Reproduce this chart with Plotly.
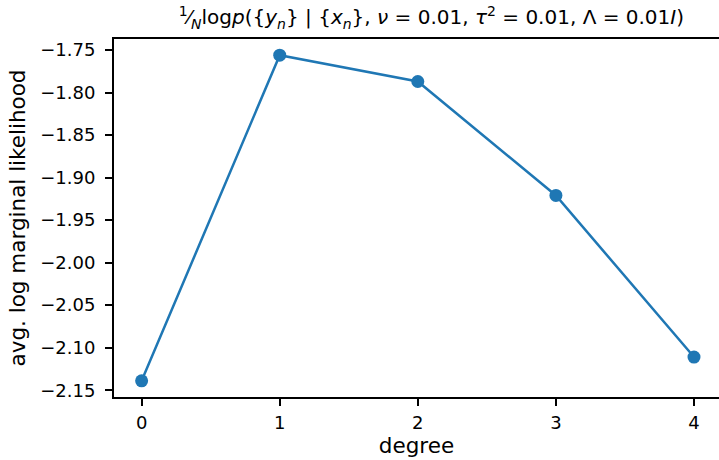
import plotly.graph_objects as go

degree = [0, 1, 2, 3, 4]
avg_log_ml = [-2.139, -1.756, -1.787, -1.921, -2.111]
y_ticks = [-1.75, -1.80, -1.85, -1.90, -1.95, -2.00, -2.05, -2.10, -2.15]
x_ticks = [0, 1, 2, 3, 4]

title_text = ("<sup>1</sup>⁄<sub><i>N</i></sub>log<i>p</i>({<i>y<sub>n</sub></i>} | {<i>x<sub>n</sub></i>}, "
              "<i>ν</i> = 0.01, <i>τ</i><sup>2</sup> = 0.01, Λ = 0.01<i>I</i>)")

fig = go.Figure()
fig.add_trace(go.Scatter(
    x=degree, y=avg_log_ml, mode="lines+markers",
    line=dict(color="#1f77b4", width=2.5),
    marker=dict(color="#1f77b4", size=13),
    showlegend=False,
))

font = "DejaVu Sans"
fig.update_layout(
    width=719, height=460,
    margin=dict(l=114, r=0, t=39, b=63),
    plot_bgcolor="white", paper_bgcolor="white",
    font=dict(family=font, size=18, color="black"),
    title=dict(text=title_text, x=0.6, xanchor="center", y=0.962, yanchor="middle",
               font=dict(family=font, size=20, color="black")),
)
fig.update_xaxes(
    range=[-0.2, 4.181], tickvals=x_ticks, showgrid=False, zeroline=False,
    showline=True, linecolor="black", linewidth=2, mirror=True,
    ticks="outside", ticklen=7, tickwidth=1.8, tickcolor="black",
    ticklabelstandoff=1,
    title=dict(text="degree", standoff=4, font=dict(size=21.5)),
)
fig.update_yaxes(
    range=[-2.158, -1.737], tickvals=y_ticks, tickformat=".2f", showgrid=False, zeroline=False,
    showline=True, linecolor="black", linewidth=2, mirror=False,
    ticks="outside", ticklen=7, tickwidth=1.8, tickcolor="black",
    ticklabelstandoff=6,
    title=dict(text="avg. log marginal likelihood", standoff=9, font=dict(size=21.5)),
)
fig.write_html("out.html")
